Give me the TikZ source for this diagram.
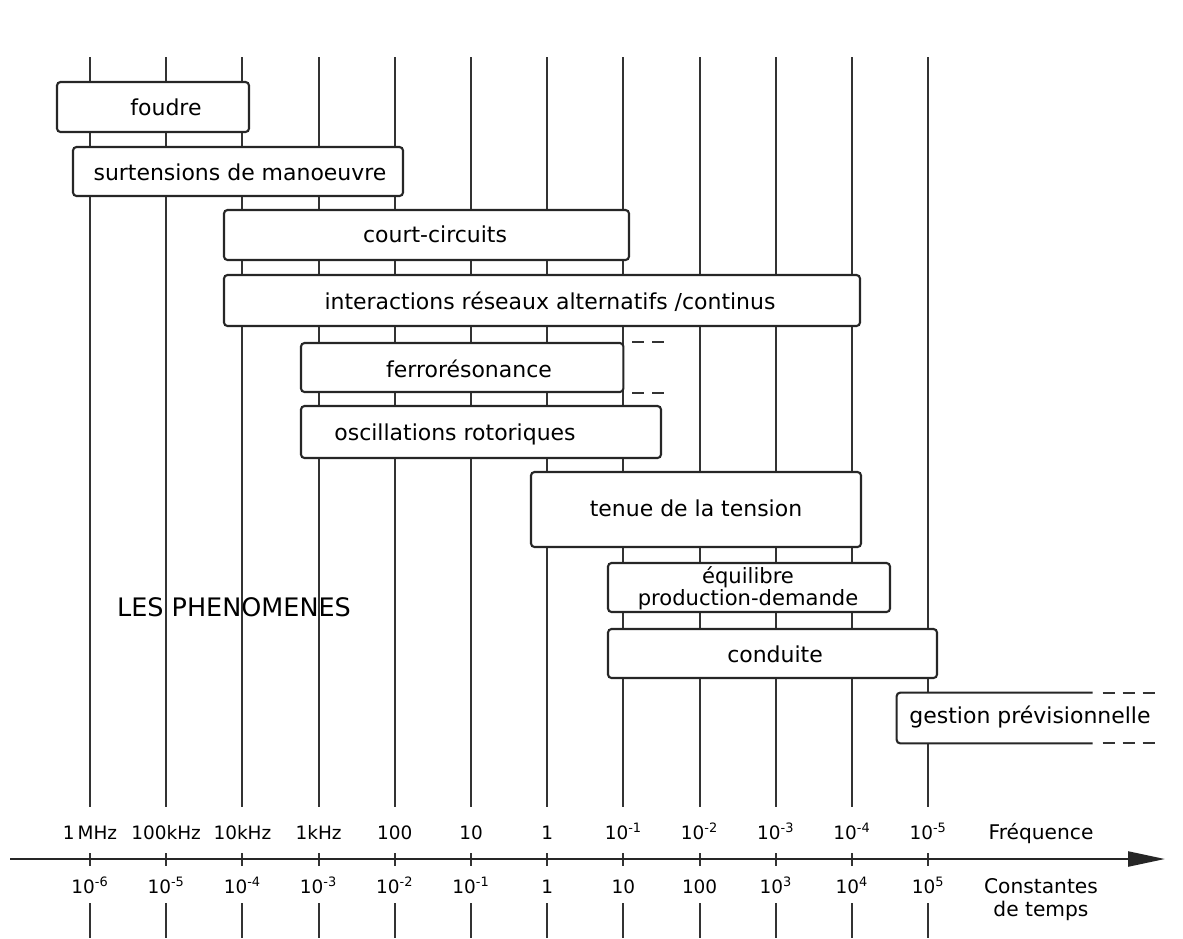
\documentclass[tikz,border=0pt]{standalone}
\usepackage{fontspec}
\setmainfont{DejaVu Sans}
\usetikzlibrary{fit,arrows.meta}

\tikzset{
  gridLine/.style={line width=1.1pt, black!80},
  dashLine/.style={line width=1.1pt, black!80, dash pattern=on 0.24cm off 0.16cm},
  phenBox/.style={draw=black!85, line width=1.2pt, fill=white, rounded corners=2pt, inner sep=0pt},
  phenEdge/.style={draw=black!85, line width=1.2pt, rounded corners=2pt},
  phenText/.style={font=\fontsize{12.5}{14}\selectfont, inner sep=0pt},
  axisLabel/.style={font=\fontsize{10.5}{12}\selectfont, inner sep=0pt, anchor=base},
}

\begin{document}
\begin{tikzpicture}[x=0.02cm, y=-0.02cm]
\useasboundingbox (0,0) rectangle (1183,938);

\foreach \i in {0,...,11} {
  \draw[gridLine] (90+76.2*\i,57) -- (90+76.2*\i,807);
  \draw[gridLine] (90+76.2*\i,853) -- (90+76.2*\i,866);
  \draw[gridLine] (90+76.2*\i,903) -- (90+76.2*\i,938);
}

\node[phenBox, fit={(57,82) (249,132)}] (foudre) {};
\node[phenText] (foudreText) at (166,107) {foudre};

\node[phenBox, fit={(73,147) (403,196)}] (surtensions) {};
\node[phenText] (surtensionsText) at (240,172) {surtensions de manoeuvre};

\node[phenBox, fit={(224,210) (629,260)}] (courtCircuits) {};
\node[phenText] (courtCircuitsText) at (435,234) {court-circuits};

\node[phenBox, fit={(224,275) (860,326)}] (interactions) {};
\node[phenText] (interactionsText) at (550,302) {interactions réseaux alternatifs /continus};

\node[phenBox, fit={(301,343) (623.4,392)}] (ferro) {};
\node[phenText] (ferroText) at (469,369) {ferrorésonance};
\draw[dashLine] ([xshift=0.16cm]ferro.north east) -- ++(32,0);
\draw[dashLine] ([xshift=0.16cm]ferro.south east) -- ++(32,0);

\node[phenBox, fit={(301,406) (661,458)}] (oscillations) {};
\node[phenText] (oscillationsText) at (455,434) {oscillations rotoriques};

\node[phenBox, fit={(531,472) (861,547)}] (tenue) {};
\node[phenText] (tenueText) at (696,508) {tenue de la tension};

\node[phenBox, fit={(608,563) (890,612)}] (equilibre) {};
\node[phenText, align=center, font=\fontsize{12}{11.4}\selectfont] (equilibreText) at (748,588)
  {équilibre\\production-demande};

\node[phenBox, fit={(608,629) (937,678)}] (conduite) {};
\node[phenText] (conduiteText) at (775,654) {conduite};

\node[fill=white, inner sep=0pt, fit={(897,693) (1157,743)}] (gestion) {};
\draw[phenEdge] ([xshift=3.92cm]gestion.north west) -- (gestion.north west)
  -- (gestion.south west) -- ++(196,0);
\draw[dashLine] ([xshift=4.12cm]gestion.north west) -- (gestion.north east);
\draw[dashLine] ([xshift=4.12cm]gestion.south west) -- (gestion.south east);
\node[phenText] (gestionText) at (1030,717) {gestion prévisionnelle};

\node[font=\fontsize{14.5}{16}\selectfont, inner sep=0pt] (titre) at (234,607) {LES PHENOMENES};

\coordinate (axisStart) at (10,859);
\coordinate (axisEnd) at (1165,859);
\draw[line width=1.3pt, black!85, -{Triangle[length=0.74cm,width=0.3cm]}] (axisStart) -- (axisEnd);

\foreach \f/\t [count=\k from 0] in {1\,MHz/10\textsuperscript{-6}, 100kHz/10\textsuperscript{-5},
    10kHz/10\textsuperscript{-4}, 1kHz/10\textsuperscript{-3}, 100/10\textsuperscript{-2},
    10/10\textsuperscript{-1}, 1/1, 10\textsuperscript{-1}/10, 10\textsuperscript{-2}/100,
    10\textsuperscript{-3}/10\textsuperscript{3}, 10\textsuperscript{-4}/10\textsuperscript{4},
    10\textsuperscript{-5}/10\textsuperscript{5}} {
  \node[axisLabel] (freq\k) at (90+76.2*\k,839) {\f};
  \node[axisLabel] (tau\k) at (90+76.2*\k,893) {\t};
}

\node[axisLabel, font=\fontsize{11.5}{13}\selectfont] (frequence) at (1041,839) {Fréquence};
\node[inner sep=0pt, align=center, font=\fontsize{11.5}{13}\selectfont] (constantes) at (1041,900)
  {Constantes\\de temps};

\end{tikzpicture}
\end{document}
